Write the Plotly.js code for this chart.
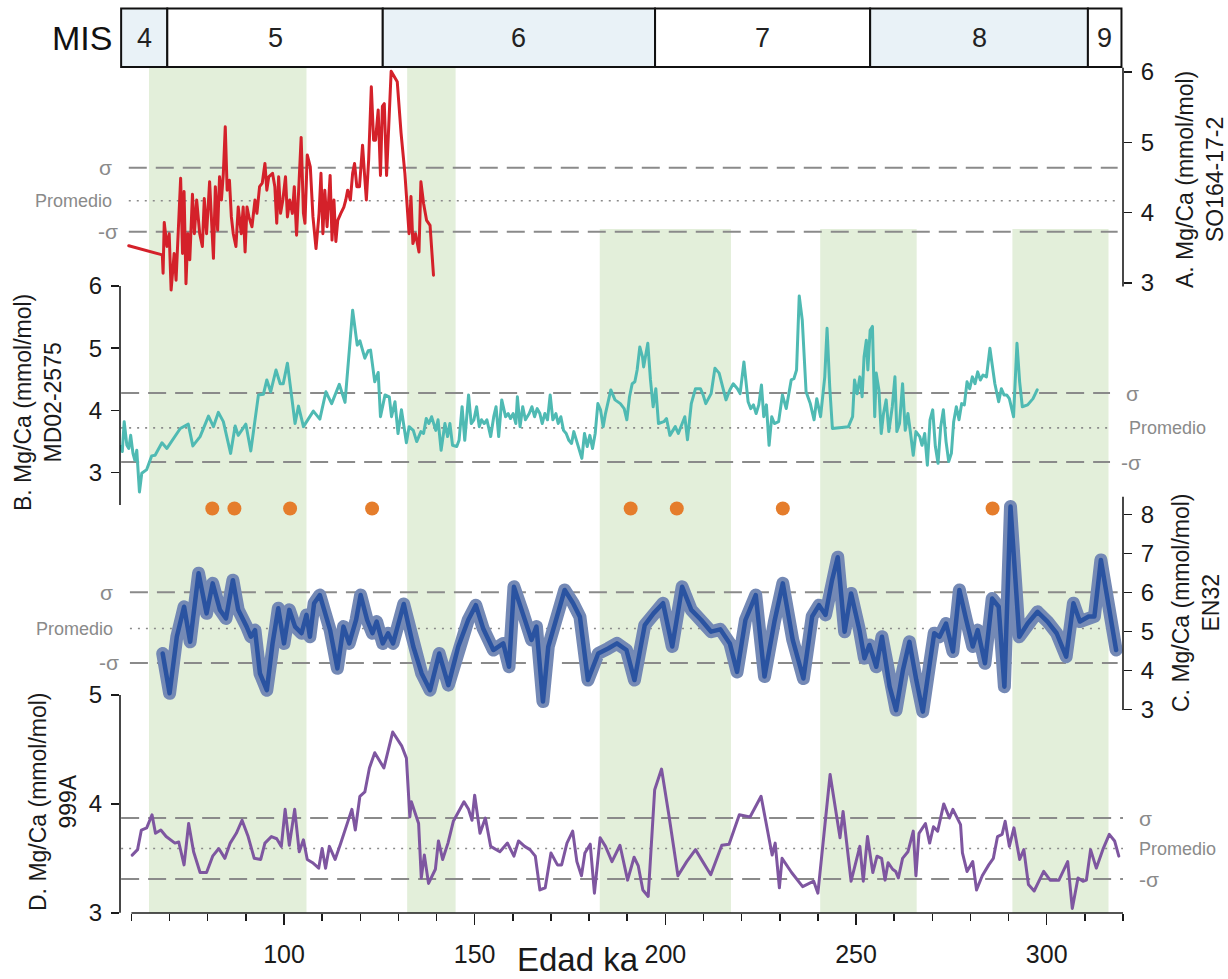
<!DOCTYPE html>
<html>
<head>
<meta charset="utf-8">
<script src="https://cdn.plot.ly/plotly-3.0.1.min.js"></script>
<style>
html,body{margin:0;padding:0;background:#fff;}
#chart{width:1228px;height:979px;}
.js-line{stroke-linejoin:round;stroke-linecap:round;}
</style>
</head>
<body>
<div id="chart"></div>
<script>
// ---------- DATA ----------
// A. SO164-17-2 (red)
const aAge = [59.3,68.1,68.3,68.6,69.3,69.9,70.4,71.2,71.7,72.2,72.9,73.4,73.8,74.3,74.8,75.3,76.0,76.5,77.1,77.9,78.6,79.1,79.7,80.5,81.0,81.5,82.0,82.6,83.1,83.6,84.1,84.6,85.1,85.7,86.2,86.7,87.4,88.0,88.8,89.3,89.8,90.3,90.8,91.6,92.4,92.9,93.6,94.3,95.0,95.5,96.0,97.0,97.6,98.1,98.6,99.1,99.7,100.4,100.9,101.5,102.2,102.7,103.3,103.8,104.5,105.1,105.5,106.1,106.9,107.6,108.4,109.2,109.7,110.2,110.7,111.3,112.1,112.6,113.1,113.6,114.1,114.9,115.7,116.2,116.7,117.4,118.0,118.5,119.1,119.8,120.6,121.1,121.6,122.2,122.9,123.5,124.0,124.7,125.3,125.8,126.3,126.9,128.1,129.7,130.7,131.7,132.8,133.3,133.8,134.5,135.4,135.9,136.6,137.4,138.3,139.2];
const aMg = [3.53,3.40,3.14,3.86,3.52,3.70,2.90,3.42,3.04,3.70,4.49,3.42,4.30,2.99,3.70,3.33,4.26,3.70,4.18,3.70,3.52,4.20,3.70,4.44,3.89,3.35,4.37,3.75,4.51,4.18,4.56,5.22,4.32,4.46,3.94,3.70,3.52,4.08,3.70,4.08,3.44,4.08,3.94,3.80,4.18,3.99,4.37,4.42,4.70,4.32,4.51,4.56,4.37,3.85,4.51,3.99,4.18,4.51,3.94,4.18,3.99,4.37,3.68,4.32,5.07,3.99,3.85,4.82,4.65,3.94,3.49,3.99,4.56,3.70,4.32,3.80,4.53,3.61,4.18,3.59,3.89,3.99,4.08,4.18,4.32,4.18,4.56,4.70,4.37,4.37,4.96,4.56,4.18,4.75,5.79,5.03,5.03,5.46,4.53,5.51,5.55,4.53,6.01,5.86,5.13,4.56,3.70,4.23,3.56,3.70,3.44,4.44,4.13,3.89,3.82,3.11];

// B. MD02-2575 (teal)
const bAge = [57.2,57.6,58.1,58.8,59.3,59.8,60.4,60.9,61.4,62.1,62.7,64.0,65.3,66.2,68.0,69.3,72.8,74.9,76.1,78.0,80.2,81.5,82.8,84.1,86.0,87.2,88.0,90.0,91.3,93.3,94.6,95.5,96.5,97.9,99.0,99.8,100.9,102.9,103.8,105.1,107.7,109.4,111.0,112.5,114.5,116.0,118.0,119.2,119.9,121.2,122.1,122.7,123.8,124.7,125.3,126.5,127.6,128.2,129.1,129.9,130.8,132.1,132.8,133.9,134.8,
135.9,136.6,137.3,138.0,138.7,139.8,140.4,141.2,142.2,142.9,143.5,144.2,145.3,145.9,146.7,147.4,148.4,149.1,149.8,150.5,151.2,151.8,152.5,153.2,154.2,155.0,155.6,156.3,157.1,158.1,158.8,159.4,160.1,160.8,161.2,161.9,162.6,163.3,164.3,165.0,165.7,166.4,167.1,167.7,168.4,169.1,169.8,170.5,171.3,171.9,172.6,173.3,174.0,174.7,175.4,176.0,176.7,177.4,178.1,178.8,179.5,180.2,180.9,181.6,182.3,183.0,183.7,184.3,185.7,186.8,188.2,189.2,189.9,190.6,191.3,192.0,192.6,193.3,194.0,194.3,195.4,196.1,196.8,197.5,198.2,199.6,200.3,201.2,202.1,202.6,203.4,204.4,205.1,205.8,206.8,207.9,209.2,209.9,210.6,212.0,213.0,214.1,215.1,215.9,216.9,217.8,218.9,219.6,220.6,221.7,222.4,223.1,223.8,224.5,225.2,225.8,226.5,227.2,227.9,228.6,229.7,230.7,231.7,232.4,233.0,233.7,234.4,235.1,235.9,236.9,238.0,239.0,239.7,240.7,241.8,242.4,243.1,243.8,248.0,249.1,249.6,250.3,251.0,251.6,252.1,252.7,253.1,253.7,254.3,254.9,255.3,256.0,256.6,257.2,257.9,258.6,259.5,260.2,260.7,261.4,262.2,262.9,263.6,264.3,265.0,265.7,266.7,267.3,268.0,268.7,269.4,270.1,270.8,271.5,272.2,272.9,273.6,274.3,275.0,275.6,276.3,277.0,277.7,278.4,279.1,279.8,280.5,281.2,281.9,282.6,283.3,284.2,285.1,285.6,286.4,287.4,288.1,288.8,289.5,290.2,291.3,292.2,292.9,293.6,295.0,296.4,297.5];
const bMg = [3.42,3.34,3.82,3.44,3.39,3.60,3.31,3.20,3.36,2.69,2.99,3.05,3.27,3.28,3.48,3.39,3.71,3.78,3.43,3.58,3.91,3.74,3.97,3.82,3.31,3.75,3.60,3.78,3.35,4.25,4.26,4.49,4.30,4.65,4.43,4.43,4.76,3.79,4.07,3.74,3.99,3.86,4.30,4.11,4.42,4.13,5.61,5.05,5.12,4.84,4.96,4.97,4.46,4.61,3.90,4.25,4.22,3.90,4.14,3.63,4.01,3.48,3.74,3.68,3.50,
3.66,3.63,3.87,3.79,3.90,3.68,3.85,3.36,3.79,3.58,3.79,3.44,3.42,3.52,4.06,3.52,4.25,3.79,3.85,4.06,3.74,3.85,3.79,3.85,3.58,3.90,4.06,3.58,4.17,3.90,3.95,3.87,3.95,3.79,4.22,3.74,4.06,3.85,3.95,4.06,3.90,4.03,3.95,3.79,3.95,3.85,4.25,3.85,3.95,3.79,3.90,3.68,3.63,3.52,3.47,3.66,3.52,3.39,3.23,3.63,3.42,3.60,3.39,3.63,4.11,4.01,3.74,3.95,4.33,4.17,4.11,4.03,3.85,4.22,4.43,4.46,4.65,5.02,4.86,4.70,5.08,4.49,4.06,4.35,3.79,3.82,3.87,3.60,3.68,3.74,3.63,3.79,3.90,3.53,4.11,4.35,4.35,4.25,4.11,4.27,4.68,4.60,4.35,4.17,4.33,4.43,4.35,4.27,4.78,4.14,4.03,4.09,3.95,4.09,4.41,3.90,4.09,3.44,3.90,3.79,3.82,4.25,4.03,4.30,4.49,4.51,4.65,5.84,5.45,4.30,4.11,3.85,4.19,3.90,4.54,5.32,4.38,3.71,3.74,3.90,4.49,4.27,4.54,4.22,4.86,5.13,4.65,5.29,5.35,3.90,4.60,4.33,3.63,3.95,4.17,3.66,4.06,4.54,3.66,3.79,4.43,3.68,3.95,3.63,3.28,3.66,3.58,3.44,3.63,3.12,3.85,4.01,3.42,3.15,3.74,4.01,3.50,3.18,3.31,3.82,4.06,3.85,4.11,4.09,4.46,4.35,4.54,4.43,4.62,4.49,4.57,4.54,5.00,4.78,4.43,4.14,4.35,4.25,4.25,4.19,3.90,5.08,4.46,4.06,4.09,4.19,4.33];

// C. EN32 (blue)
const cAge = [68.2,70.0,71.9,73.8,75.4,77.6,79.7,81.3,83.2,84.8,86.6,88.0,90.2,91.3,92.4,93.7,95.5,97.0,98.5,100.0,101.4,102.9,104.6,105.9,106.8,107.9,109.4,112.1,114.0,115.6,117.1,118.9,120.1,121.8,123.2,124.3,125.9,127.3,128.6,131.4,133.9,136.1,138.3,140.7,143.1,145.7,148.3,150.3,152.2,154.9,157.5,159.0,160.3,162.7,164.9,166.2,167.9,
169.3,171.4,173.6,175.8,177.6,179.7,182.4,185.0,187.3,189.8,191.9,194.6,196.9,199.4,201.8,204.4,206.8,209.4,212.0,214.4,216.9,218.8,221.0,223.7,226.0,228.6,230.8,233.4,236.2,238.5,240.3,242.0,243.7,245.2,247.0,248.7,250.9,252.2,253.5,255.3,256.8,258.8,260.5,262.3,264.0,265.8,267.5,269.2,270.5,271.9,273.6,
275.4,277.1,278.9,280.6,281.9,283.8,285.7,287.4,288.9,290.5,292.8,295.0,297.6,300.2,302.6,305.1,307.0,308.7,311.0,312.5,314.2,315.5,316.8,318.2];
const cMg = [4.43,3.41,4.86,5.63,4.73,6.49,5.46,6.23,5.55,5.33,6.31,5.55,5.12,4.86,5.03,3.92,3.49,4.69,5.59,4.69,5.55,5.12,4.95,5.42,4.86,5.72,5.93,5.03,4.05,5.12,4.69,5.29,5.93,5.29,4.95,5.25,4.69,4.95,4.69,5.70,4.61,3.92,3.49,4.43,3.62,4.61,5.29,5.67,5.08,4.52,4.69,4.09,6.14,5.46,4.78,5.12,3.20,
4.61,5.29,6.06,5.72,5.37,3.75,4.43,4.56,4.69,4.52,3.75,5.16,5.46,5.72,4.61,6.14,5.55,5.29,4.99,5.05,4.69,3.96,5.29,5.93,3.84,5.25,6.23,4.78,3.79,5.38,5.67,5.42,6.31,6.90,4.99,5.97,5.03,4.31,4.65,4.09,4.86,3.58,2.98,4.01,4.73,3.75,2.94,4.09,4.95,4.86,5.20,
4.48,6.06,5.29,4.61,5.03,4.18,5.84,5.63,3.58,8.20,4.86,5.20,5.50,5.25,4.95,4.35,5.72,5.25,5.38,5.38,6.83,6.06,5.46,4.52];

// D. 999A (purple)
const dAge = [60.2,61.6,62.6,64.0,65.4,66.3,67.7,69.1,71.4,72.4,73.8,75.0,76.3,78.0,79.7,81.3,82.9,84.5,85.9,87.5,89.0,90.6,92.2,93.9,95.0,96.7,98.1,99.3,100.3,101.4,102.8,104.0,105.1,106.1,107.5,109.1,110.0,110.9,111.9,113.4,114.9,116.4,117.8,118.7,119.9,121.2,122.4,123.8,126.2,128.5,130.9,132.1,133.0,133.4,134.3,135.3,136.0,136.8,137.9,138.8,139.7,140.5,141.6,143.0,144.4,145.8,147.2,148.4,149.3,150.0,151.4,152.8,154.2,156.6,158.6,160.3,161.5,163.1,164.5,165.9,
167.1,168.5,170.0,171.7,172.8,174.2,175.7,176.8,178.0,178.9,180.3,181.4,182.9,184.3,186.0,188.1,190.1,191.8,192.9,194.1,195.5,197.2,199.0,201.0,203.3,205.6,207.9,209.8,211.9,214.8,216.7,219.4,222.2,225.1,228.0,228.8,229.9,230.6,233.1,236.0,238.9,240.0,243.2,245.8,246.6,248.7,251.0,251.9,253.0,254.4,255.5,256.7,257.6,258.4,259.6,260.4,261.1,262.2,263.6,265.0,265.7,266.5,268.2,269.3,270.3,271.4,273.0,274.5,275.4,277.4,277.9,279.1,280.6,281.6,283.1,284.8,286.0,287.1,288.3,289.1,290.2,291.4,292.9,294.0,295.2,296.7,299.2,300.9,303.2,305.5,306.7,308.2,309.5,310.4,311.5,313.0,314.7,316.4,317.8,318.9];
const dMg = [3.53,3.58,3.76,3.78,3.90,3.73,3.76,3.70,3.64,3.65,3.44,3.82,3.56,3.37,3.37,3.52,3.59,3.50,3.64,3.73,3.85,3.70,3.50,3.49,3.64,3.70,3.68,3.61,3.95,3.62,3.95,3.56,3.67,3.49,3.46,3.41,3.59,3.41,3.61,3.49,3.64,3.79,3.95,3.76,4.07,4.11,4.33,4.47,4.33,4.66,4.53,4.42,3.88,4.02,3.92,3.82,3.32,3.53,3.27,3.34,3.40,3.66,3.49,3.64,3.84,3.93,4.02,3.95,3.85,4.08,3.73,3.87,3.61,3.56,3.64,3.52,3.66,3.61,3.58,3.52,
3.21,3.23,3.55,3.44,3.44,3.64,3.75,3.47,3.34,3.55,3.63,3.18,3.69,3.61,3.47,3.62,3.30,3.51,3.43,3.21,3.15,4.13,4.32,3.88,3.34,3.47,3.58,3.47,3.35,3.62,3.63,3.90,3.88,4.07,3.53,3.64,3.23,3.50,3.37,3.24,3.29,3.18,4.27,3.69,3.93,3.29,3.61,3.29,3.70,3.37,3.52,3.50,3.30,3.46,3.40,3.38,3.32,3.50,3.56,3.75,3.34,3.73,3.82,3.64,3.79,3.75,4.00,3.87,3.95,3.81,3.55,3.38,3.47,3.21,3.34,3.44,3.50,3.70,3.72,3.84,3.61,3.78,3.49,3.58,3.26,3.20,3.38,3.30,3.30,3.47,3.04,3.32,3.29,3.30,3.58,3.41,3.58,3.72,3.66,3.52];

// Orange event markers
const dotAge = [81.2, 87.0, 101.6, 123.1, 190.9, 203.0, 230.8, 285.8];
const dotLevel = 8.15; // on EN32 scale

// Statistics (-σ, promedio, σ) per record
const sigA = [3.73, 4.17, 4.64];
const sigB = [3.17, 3.72, 4.28];
const sigC = [4.19, 5.07, 6.00];
const sigD = [3.31, 3.59, 3.87];
const sigLabels = ['-σ', 'Promedio', 'σ'];

// Marine isotope stages
const misBounds = [57.3, 69.4, 125.9, 197.3, 253.7, 310.8, 319.6];
const misLabels = ['4', '5', '6', '7', '8', '9'];

// Shaded (green) intervals
const bandStart = [64.6, 132.3, 182.8, 240.6, 291.0];
const bandEnd   = [105.9, 145.0, 217.2, 265.9, 316.2];

// Tick values
const xMajorTicks = [100, 150, 200, 250, 300];
const ticksA = [3, 4, 5, 6];
const ticksB = [3, 4, 5, 6];
const ticksC = [3, 4, 5, 6, 7, 8];
const ticksD = [3, 4, 5];

// ---------- LAYOUT GEOMETRY ----------
const X0PX = 120, PW = 1003, Y0PX = 8, PH = 905;
const px2x = px => (px - X0PX) / PW;
const py2y = py => (Y0PX + PH - py) / PH;
// y range so that value v0 sits at pixel p0 with k px per unit
const yr = (v0, p0, k) => [v0 - (Y0PX + PH - p0) / k, v0 + (p0 - Y0PX) / k];

const FONT = 'Liberation Sans, Arial, Helvetica, sans-serif';
const INK = '#1a1a1a';
const GREY = '#8a8a8a';

const yBase = {
  domain: [0, 1], anchor: 'x', showgrid: false, zeroline: false, showline: false,
  tickmode: 'array', ticks: 'outside', ticklen: 8, tickwidth: 1.5, tickcolor: INK,
  tickfont: {size: 24, color: INK, family: FONT}, fixedrange: true
};

const layout = {
  width: 1228, height: 979,
  margin: {l: X0PX, r: 1228 - X0PX - PW, t: Y0PX, b: 979 - Y0PX - PH, pad: 0},
  paper_bgcolor: '#ffffff', plot_bgcolor: 'rgba(0,0,0,0)',
  showlegend: false, hovermode: false,
  font: {family: FONT, color: INK},
  xaxis: {
    range: [57.0, 320], showgrid: false, zeroline: false, showline: false,
    tickmode: 'array', tickvals: xMajorTicks, ticks: 'outside', ticklen: 11, tickwidth: 1.5, tickcolor: INK,
    tickfont: {size: 25, color: INK, family: FONT}, ticklabelstandoff: 8,
    minor: {tickmode: 'linear', tick0: 0, dtick: 10, ticks: 'outside', ticklen: 7, tickwidth: 1.5, tickcolor: INK},
    fixedrange: true
  },
  yaxis:  Object.assign({}, yBase, {side: 'right', range: yr(6, 72, 70.33), tickvals: ticksA, ticklabelstandoff: 4}),
  yaxis2: Object.assign({}, yBase, {side: 'left', overlaying: 'y', range: yr(6, 286, 62.23), tickvals: ticksB, ticklabelstandoff: 4}),
  yaxis3: Object.assign({}, yBase, {side: 'right', overlaying: 'y', range: yr(8, 514.3, 39.0), tickvals: ticksC, ticklabelstandoff: 4}),
  yaxis4: Object.assign({}, yBase, {side: 'left', overlaying: 'y', range: yr(5, 695, 108.9), tickvals: ticksD, ticklabelstandoff: 4}),
  shapes: [], annotations: []
};

// green bands
const bandTopPx = [67, 67, 229, 229, 229];
bandStart.forEach((s, i) => {
  layout.shapes.push({type: 'rect', xref: 'x', yref: 'paper', x0: s, x1: bandEnd[i], y0: 0, y1: py2y(bandTopPx[i]),
    fillcolor: '#e3efda', line: {width: 0}, layer: 'below'});
});

// sigma / mean lines
function sigmaLines(vals, yref, xs, xe) {
  vals.forEach((v, i) => {
    const isMean = i === 1;
    layout.shapes.push({type: 'line', xref: 'x', yref: yref, x0: xs, x1: xe, y0: v, y1: v, layer: 'below',
      line: isMean ? {color: GREY, width: 1.6, dash: '2px,6px'} : {color: GREY, width: 2, dash: '18px,9px'}});
  });
}
sigmaLines(sigA, 'y', 59.3, 318.6);
sigmaLines(sigB, 'y2', 57.3, 316.6);
sigmaLines(sigC, 'y3', 59.6, 318.6);
sigmaLines(sigD, 'y4', 57.3, 320);

// sigma labels
function sigmaLabels(vals, yref, xPaperList, anchor) {
  vals.forEach((v, i) => {
    layout.annotations.push({xref: 'paper', yref: yref, x: xPaperList[i], y: v, text: sigLabels[i], showarrow: false,
      xanchor: anchor, yanchor: 'middle', font: {size: i === 1 ? 18 : 21, color: GREY, family: FONT}});
  });
}
sigmaLabels(sigA, 'y', [px2x(120), px2x(114), px2x(114)], 'right');
sigmaLabels(sigC, 'y3', [px2x(121), px2x(115), px2x(115)], 'right');
sigmaLabels(sigB, 'y2', [px2x(1119), px2x(1127), px2x(1124)], 'left');
sigmaLabels(sigD, 'y4', [px2x(1137), px2x(1137), px2x(1137)], 'left');

// MIS boxes
for (let i = 0; i < misLabels.length; i++) {
  const blue = ['4', '6', '8'].includes(misLabels[i]);
  layout.shapes.push({type: 'rect', xref: 'x', yref: 'paper', x0: misBounds[i], x1: misBounds[i + 1],
    y0: py2y(67), y1: py2y(8.5), fillcolor: blue ? '#e9f2f7' : '#ffffff', line: {color: '#111', width: 2}, layer: 'above'});
  layout.annotations.push({xref: 'x', yref: 'paper', x: (misBounds[i] + misBounds[i + 1]) / 2, y: py2y(38),
    text: misLabels[i], showarrow: false, xanchor: 'center', yanchor: 'middle', font: {size: 27, color: '#222', family: FONT}});
}
layout.annotations.push({xref: 'paper', yref: 'paper', x: px2x(82), y: py2y(38), text: 'MIS', showarrow: false,
  xanchor: 'center', yanchor: 'middle', font: {size: 34, color: '#111', family: FONT}});

// axis lines
const axLine = (xref, x, yref, y0, y1) => ({type: 'line', xref: xref, yref: yref, x0: x, x1: x, y0: y0, y1: y1,
  line: {color: INK, width: 1.6}, layer: 'above'});
layout.shapes.push(axLine('paper', 1, 'y', 2.95, 6.06));
layout.shapes.push(axLine('paper', 0, 'y2', 2.48, 6.0));
layout.shapes.push(axLine('paper', 1, 'y3', 2.98, 8.45));
layout.shapes.push(axLine('paper', 0, 'y4', 3.0, 5.0));
layout.shapes.push({type: 'line', xref: 'x', yref: 'paper', x0: 60, x1: 320, y0: 0, y1: 0, line: {color: INK, width: 1.6}, layer: 'above'});

// axis titles
const titleFont = {size: 23, color: INK, family: FONT};
layout.annotations.push({xref: 'paper', yref: 'paper', x: px2x(1200), y: py2y(180), text: 'A. Mg/Ca (mmol/mol)<br>SO164-17-2',
  textangle: -90, showarrow: false, xanchor: 'center', yanchor: 'middle', font: titleFont});
layout.annotations.push({xref: 'paper', yref: 'paper', x: px2x(38), y: py2y(403), text: 'B. Mg/Ca (mmol/mol)<br>MD02-2575',
  textangle: -90, showarrow: false, xanchor: 'center', yanchor: 'middle', font: titleFont});
layout.annotations.push({xref: 'paper', yref: 'paper', x: px2x(1196), y: py2y(603), text: 'C. Mg/Ca (mmol/mol)<br>EN32',
  textangle: -90, showarrow: false, xanchor: 'center', yanchor: 'middle', font: titleFont});
layout.annotations.push({xref: 'paper', yref: 'paper', x: px2x(53), y: py2y(802), text: 'D. Mg/Ca (mmol/mol)<br>999A',
  textangle: -90, showarrow: false, xanchor: 'center', yanchor: 'middle', font: titleFont});
layout.annotations.push({xref: 'paper', yref: 'paper', x: px2x(578), y: py2y(959), text: 'Edad ka',
  showarrow: false, xanchor: 'center', yanchor: 'middle', font: {size: 33, color: INK, family: FONT}});

// ---------- TRACES ----------
const traces = [
  {x: aAge, y: aMg, yaxis: 'y', mode: 'lines', line: {color: '#d4212a', width: 3}},
  {x: bAge, y: bMg, yaxis: 'y2', mode: 'lines', line: {color: '#4fbab3', width: 3}},
  {x: cAge, y: cMg, yaxis: 'y3', mode: 'lines', line: {color: '#7489b5', width: 13}},
  {x: cAge, y: cMg, yaxis: 'y3', mode: 'lines', line: {color: '#2a53a1', width: 4.5}},
  {x: dotAge, y: dotAge.map(() => dotLevel), yaxis: 'y3', mode: 'markers', marker: {size: 14, color: '#e57d2c'}, cliponaxis: false},
  {x: dAge, y: dMg, yaxis: 'y4', mode: 'lines', line: {color: '#7e56a0', width: 3}}
];

Plotly.newPlot('chart', traces, layout, {displayModeBar: false, staticPlot: true});
</script>
</body>
</html>
